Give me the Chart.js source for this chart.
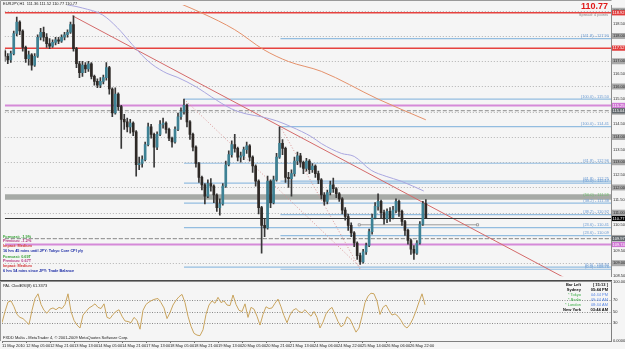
<!DOCTYPE html>
<html><head><meta charset="utf-8">
<script src="https://cdn.jsdelivr.net/npm/chart.js@4.4.1/dist/chart.umd.min.js"></script>
<style>
html,body{margin:0;padding:0;background:#f5f5f5;}
#wrap{position:relative;width:625px;height:349px;overflow:hidden;background:#f5f5f5;}
#c1{position:absolute;left:0;top:0;}
#c2{position:absolute;left:0;top:275px;}
</style></head><body>
<div id="wrap"><canvas id="c1" width="625" height="281"></canvas><canvas id="c2" width="625" height="74"></canvas></div>
<script>
// ---------------- DATA ----------------
const symbolTitle = 'EURJPY,H1  111.36 111.52 110.77 110.77';
const timeLabels = ['11 May 2010','12 May 05:00','12 May 21:00','13 May 13:00','14 May 05:00','14 May 21:00','17 May 13:00','18 May 05:00','18 May 21:00','19 May 13:00','20 May 05:00','20 May 21:00','21 May 13:00','24 May 06:00','24 May 22:00','25 May 14:00','26 May 06:00','26 May 22:00'];
const timeTickIdx = [0,8,16,24,32,40,48,56,64,72,80,88,96,104,112,120,128,136];
const priceTicks = [108.5,109,109.5,110,110.5,111,111.5,112,112.5,113,113.5,114,114.5,115,115.5,116,116.5,117,117.5,118,118.5,119];

const opens = [117.40,117.20,117.05,117.30,118.10,118.55,118.20,117.55,117.10,117.25,116.85,117.20,117.95,118.15,117.95,117.70,117.60,117.75,117.85,117.80,117.95,118.05,118.15,118.45,117.50,116.90,116.55,116.85,116.70,116.90,116.40,116.20,116.05,116.20,116.35,116.75,115.90,114.95,115.70,115.20,114.70,114.60,114.40,114.55,114.20,112.90,112.95,113.10,113.70,114.40,114.10,113.60,114.10,114.50,114.55,114.30,113.95,113.80,114.30,114.80,115.00,115.25,114.60,114.10,113.60,112.95,112.40,112.10,111.65,112.15,112.05,111.70,111.20,111.35,112.05,112.90,113.30,113.70,113.55,113.20,113.25,113.50,113.65,113.20,112.85,112.25,111.20,110.50,110.40,112.25,111.40,112.30,113.20,113.75,113.55,112.40,112.35,112.55,113.05,113.25,113.00,112.75,113.05,112.70,112.85,112.55,112.30,111.70,111.45,111.80,112.10,111.95,111.75,111.55,111.10,110.85,110.50,110.20,109.80,109.30,109.05,109.45,109.70,110.25,110.80,111.25,111.45,111.00,110.75,111.05,110.80,111.10,111.45,111.05,110.65,110.30,109.90,109.55,109.40,109.80,110.55,111.36];
const closes = [117.20,117.05,117.30,118.10,118.55,118.20,117.55,117.10,117.25,116.85,117.20,117.95,118.15,117.95,117.70,117.60,117.75,117.85,117.80,117.95,118.05,118.15,118.45,117.50,116.90,116.55,116.85,116.70,116.90,116.40,116.20,116.05,116.20,116.35,116.75,115.90,114.95,115.70,115.20,114.70,114.60,114.40,114.55,114.20,112.90,112.95,113.10,113.70,114.40,114.10,113.60,114.10,114.50,114.55,114.30,113.95,113.80,114.30,114.80,115.00,115.25,114.60,114.10,113.60,112.95,112.40,112.10,111.65,112.15,112.05,111.70,111.20,111.35,112.05,112.90,113.30,113.70,113.55,113.20,113.25,113.50,113.65,113.20,112.85,112.25,111.20,110.50,110.40,112.25,111.40,112.30,113.20,113.75,113.55,112.40,112.35,112.55,113.05,113.25,113.00,112.75,113.05,112.70,112.85,112.55,112.30,111.70,111.45,111.80,112.10,111.95,111.75,111.55,111.10,110.85,110.50,110.20,109.80,109.30,109.05,109.45,109.70,110.25,110.80,111.25,111.45,111.00,110.75,111.05,110.80,111.10,111.45,111.05,110.65,110.30,109.90,109.55,109.40,109.80,110.55,111.36,110.77];
const highs = [117.45,117.30,117.40,118.20,118.75,118.60,118.25,117.60,117.40,117.30,117.30,118.05,118.30,118.35,118.10,117.90,117.85,117.95,117.95,118.05,118.15,118.25,118.55,118.80,117.55,117.00,117.00,116.95,117.00,116.95,116.45,116.30,116.35,116.45,116.95,116.80,115.95,115.95,115.75,115.25,114.90,114.75,114.70,114.60,114.25,113.20,113.25,113.80,114.55,114.50,114.15,114.20,114.65,114.75,114.60,114.35,114.00,114.40,114.95,115.15,115.50,115.30,114.65,114.15,113.65,113.00,112.45,112.15,112.30,112.35,112.10,111.75,111.55,112.15,113.05,113.45,113.85,114.10,113.60,113.40,113.60,113.80,113.70,113.25,112.90,112.30,111.25,110.75,112.45,112.30,112.45,113.35,114.40,113.90,113.60,112.60,112.70,113.20,113.40,113.35,113.05,113.15,113.10,112.95,112.90,112.65,112.35,111.80,111.90,112.25,112.37,112.00,111.80,111.60,111.20,110.95,110.60,110.25,109.85,109.40,109.55,109.80,110.35,110.95,111.40,111.75,111.50,111.10,111.15,111.20,111.25,111.55,111.50,111.10,110.70,110.35,109.95,109.70,109.90,110.65,111.45,111.52];
const lows = [117.00,116.90,116.95,117.25,118.00,118.05,117.40,116.95,116.85,116.65,116.80,117.15,117.85,117.80,117.55,117.50,117.55,117.65,117.70,117.75,117.85,117.95,118.10,117.40,116.75,116.35,116.40,116.55,116.60,116.30,116.05,115.95,115.95,116.10,116.25,115.70,114.80,114.90,115.05,113.55,114.30,114.20,114.15,114.05,112.45,112.70,112.80,113.05,113.65,113.95,112.80,113.50,114.05,114.35,114.15,113.85,113.60,113.75,114.25,114.70,114.90,114.40,113.90,113.45,112.80,112.20,111.90,111.35,111.60,111.85,111.40,111.05,110.90,111.30,112.00,112.85,113.20,113.40,113.05,113.00,113.10,113.35,113.05,112.60,112.05,110.95,109.40,110.05,110.35,111.20,111.35,112.25,113.15,113.30,112.20,112.00,111.65,112.45,112.90,112.80,112.55,112.65,112.55,112.60,112.40,112.15,111.55,111.30,111.35,111.70,111.80,111.60,111.45,110.95,110.70,110.30,110.05,109.65,109.15,108.95,109.00,109.35,109.65,110.15,110.75,111.10,110.80,110.55,110.60,110.65,110.75,111.00,110.85,110.50,110.10,109.75,109.35,109.15,109.35,109.75,110.50,110.77];

const rsi = [31,50,66,68,58,45,40,38,33,28, 52,72,80,62,52,47,54,56,53,57, 55,62,80,50,35,27,22,44,50,56, 59,63,57,55,63,40,38,45,50,53, 42,34,33,31,40,35,20,52,62,66, 69,71,72,65,56,38,48,61,69,75, 79,65,42,25,13,10,9,19,45,61, 68,64,74,65,68,61,60,78,62,52, 50,63,40,57,54,42,27,45,58,55, 56,64,71,58,43,31,44,52,55,50, 48,53,47,42,50,40,22,32,46,53, 57,45,33,24,28,41,37,26,15,22, 42,65,76,81,80,68,45,57,61,52, 44,46,42,35,26,22,28,38,51,66, 80,61.34];
const rsiTicks = [0,30,50,70,100];
const rsiTickLabels = ['0.0000','30','50','70','100.0000'];
const rsiLevels = [30,50,70];

// moving averages (bar index, price)
const lavX = [12.7,18.7,26,32.7,37.7,42.7,46,49.3,54.3,57.7,64.3,69.3,76,81,86,91,96,102.7,106,112.7,117,122.7,127.7,132.7,140.3];
const lavY = [119.62,119.31,119.11,118.84,118.33,117.66,117.23,116.88,116.52,116.37,115.97,115.58,115.11,114.91,114.80,114.64,114.40,114.01,113.74,113.35,113.23,112.68,112.44,112.25,111.86];
const ornX = [52.7,66,77,86.7,95,106,125,141];
const ornY = [119.58,118.91,118.25,117.46,116.99,116.60,115.50,114.68];

// objects
const redLevels = [118.92, 117.52];
const pinkLevels = [115.25, 109.74];
const pivotLevels = [115.04, 109.97];
const bidPrice = 110.77;
const bandLevels = [111.73, 111.51];
const trendX = [22.7, 203], trendY = [118.80, 107.44];
const fibTrendAX = [60, 119], fibTrendAY = [115.50, 108.84];
const fibTrendBX = [92.3, 119], fibTrendBY = [114.41, 108.76];
const segX = [118.7, 158.3], segY = [110.52, 110.52];
const fibAStart = 60, fibAPcts = [100.0,61.8,50.0,38.2,23.6,0.0], fibAPrices = [115.50,112.96,112.17,111.38,110.41,108.84];
const fibBStart = 92.3, fibBPcts = [161.8,100.0,61.8,50.0,38.2,23.6,0.0], fibBPrices = [117.90,114.41,112.25,111.59,110.92,110.09,108.76];

const newsText = ['Forecast: -1.9%','Previous: -1.2%','Impact: Medium','16 hrs 45 mins until JPY: Tokyo Core CPI y/y','Forecast: 0.69T','Previous: 0.67T','Impact: Medium','6 hrs 54 mins since JPY: Trade Balance'];
const newsColors = ['#36a236','#b2307c','#d23434','#1c2ca6','#36a236','#b2307c','#d23434','#1c2ca6'];
const clockNames = ['Bar Left','Sydney','* Tokyo','* Berlin','* London','New York'];
const clockTimes = ['[ 15:13 ]','05:44 PM','04:44 PM','09:44 AM','08:44 AM','03:44 AM'];

// ---------------- STYLE / BUILD ----------------
const F = '"Liberation Sans", Arial, sans-serif';
const XMAX = 203;
const pts = (xs, ys) => xs.map((x, i) => ({x, y: ys[i]}));
function hline(v, x0, color, width, dash, order) {
  return {type:'line', data:[{x:x0,y:v},{x:XMAX,y:v}], borderColor:color, borderWidth:width, borderDash:dash||[], pointRadius:0, fill:false, order:order===undefined?5:order};
}
const datasets = [];
// band
datasets.push({type:'line', data:[{x:0,y:bandLevels[0]},{x:XMAX,y:bandLevels[0]}], borderColor:'rgba(0,0,0,0)', borderWidth:0, pointRadius:0, fill:'+1', backgroundColor:'#a6aaa6', order:4});
datasets.push({type:'line', data:[{x:0,y:bandLevels[1]},{x:XMAX,y:bandLevels[1]}], borderColor:'rgba(0,0,0,0)', borderWidth:0, pointRadius:0, fill:false, order:4});
// fib levels
fibAPrices.forEach(v => datasets.push(hline(v, fibAStart, '#93bde0', 1.2, null, 6)));
fibBPrices.forEach(v => datasets.push(hline(v, fibBStart, '#93bde0', 1.2, null, 6)));
redLevels.forEach(v => datasets.push(hline(v, 0, '#e6423f', 1.5)));
pinkLevels.forEach(v => datasets.push(hline(v, 0, '#d58ad8', 2)));
pivotLevels.forEach(v => datasets.push(hline(v, 0, '#8a8a8a', 1, [4,2])));
datasets.push(hline(bidPrice, 0, '#3a3a3a', 1.2, null, 3));
// diagonal objects
datasets.push({type:'line', data:pts(trendX,trendY), borderColor:'#d46a6a', borderWidth:1, pointRadius:0, order:3});
datasets.push({type:'line', data:pts(fibTrendAX,fibTrendAY), borderColor:'#d99494', borderWidth:1, borderDash:[1,2], pointRadius:0, order:3});
datasets.push({type:'line', data:pts(fibTrendBX,fibTrendBY), borderColor:'#d99494', borderWidth:1, borderDash:[1,2], pointRadius:0, order:3});
datasets.push({type:'line', data:pts(segX,segY), borderColor:'#9a9a9a', borderWidth:1, pointRadius:1.5, pointStyle:'rect', pointBackgroundColor:'#ffffff', pointBorderColor:'#8a8a8a', pointBorderWidth:0.8, order:3});
// moving averages
datasets.push({type:'line', data:pts(lavX,lavY), borderColor:'#aaa7e0', borderWidth:1, pointRadius:0, cubicInterpolationMode:'monotone', order:2});
datasets.push({type:'line', data:pts(ornX,ornY), borderColor:'#e4916b', borderWidth:1, pointRadius:0, cubicInterpolationMode:'monotone', order:2});
// candles
datasets.push({type:'bar', data:closes.map((c,i)=>({x:i,y:[lows[i],highs[i]]})), backgroundColor:'#383838', barThickness:1, grouped:false, borderWidth:0, order:1});
datasets.push({type:'bar', data:closes.map((c,i)=>({x:i,y:[opens[i],c]})), backgroundColor:ctx => (closes[ctx.dataIndex] >= opens[ctx.dataIndex] ? '#3d8194' : '#2e2926'), barThickness:2, grouped:false, borderWidth:0, minBarLength:1, order:0});

const isInt = v => Math.abs(v - Math.round(v)) < 1e-6;
const gridLevels = priceTicks.filter(isInt);
const axisMarks = [
  {v:redLevels[0], bg:'#e23b3b', fg:'#ffffff'},
  {v:redLevels[1], bg:'#e23b3b', fg:'#ffffff'},
  {v:pinkLevels[0], bg:'#d077d4', fg:'#ffffff'},
  {v:pinkLevels[1], bg:'#d077d4', fg:'#ffffff'},
  {v:pivotLevels[0], bg:'#5f666b', fg:'#ffffff'},
  {v:pivotLevels[1], bg:'#5f666b', fg:'#ffffff'},
  {v:bidPrice, bg:'#000000', fg:'#ffffff'}
];

const mainDeco = {
  id:'mainDeco',
  beforeDatasetsDraw(chart){
    const {ctx, chartArea:a, scales:{y}} = chart;
    ctx.save();
    ctx.strokeStyle = '#b2b2b2'; ctx.lineWidth = 1; ctx.setLineDash([1,2]);
    gridLevels.forEach(v => {
      const py = Math.round(y.getPixelForValue(v)) + 0.5;
      ctx.beginPath(); ctx.moveTo(a.left, py); ctx.lineTo(a.right, py); ctx.stroke();
    });
    ctx.restore();
  },
  afterDraw(chart){
    const {ctx, chartArea:a, scales:{y}} = chart;
    ctx.save();
    // fib labels
    ctx.font = '4px ' + F; ctx.textAlign = 'right'; ctx.textBaseline = 'bottom';
    const lab = (p, v, col) => { ctx.fillStyle = col; ctx.fillText('(' + p.toFixed(1) + ') - ' + v.toFixed(2), a.right - 2, y.getPixelForValue(v) - 0.5); };
    fibAPcts.forEach((p,i) => lab(p, fibAPrices[i], '#6a9ad2'));
    fibBPcts.forEach((p,i) => lab(p, fibBPrices[i], p === 50 ? '#6fc06f' : '#6a9ad2'));
    // title
    ctx.textAlign = 'left'; ctx.textBaseline = 'middle';
    ctx.fillStyle = '#202020'; ctx.font = '4px ' + F;
    ctx.fillText(symbolTitle, 3, 4);
    // price banner
    ctx.textAlign = 'right'; ctx.fillStyle = '#e01818'; ctx.font = 'bold 9px ' + F;
    ctx.fillText(bidPrice.toFixed(2), 608, 7);
    ctx.fillStyle = '#8a8a8a'; ctx.font = '4px ' + F;
    ctx.fillText('Spread: 4 points', 608, 14.5);
    // news
    ctx.textAlign = 'left';
    const ny = [236.7, 241.4, 246.1, 250.8, 256.6, 261.3, 266.0, 270.6];
    newsText.forEach((t,i) => { ctx.fillStyle = newsColors[i]; ctx.font = 'bold 3.8px ' + F; ctx.fillText(t, 3, ny[i]); });
    // axis marks
    axisMarks.forEach(m => {
      const py = y.getPixelForValue(m.v);
      ctx.fillStyle = m.bg; ctx.fillRect(612, py - 2.6, 13, 5.2);
      ctx.fillStyle = m.fg; ctx.font = '4px ' + F; ctx.textAlign = 'left'; ctx.textBaseline = 'middle';
      ctx.fillText(m.v.toFixed(2), 612.5, py + 0.2);
    });
    // borders
    ctx.strokeStyle = '#9a9a9a'; ctx.lineWidth = 1;
    ctx.beginPath(); ctx.moveTo(0.5, 0.5); ctx.lineTo(611.5, 0.5); ctx.moveTo(0.5, 0.5); ctx.lineTo(0.5, 281); ctx.stroke();
    ctx.restore();
  }
};

new Chart(document.getElementById('c1'), {
  type:'bar',
  data:{datasets},
  options:{
    responsive:false, animation:false, events:[],
    layout:{padding:{left:2,right:0,top:5,bottom:2}},
    plugins:{legend:{display:false}, tooltip:{enabled:false}},
    scales:{
      x:{type:'linear', min:0, max:XMAX, display:false, offset:false},
      y:{type:'linear', position:'right', min:108.484, max:119.229,
         afterFit:s => { s.width = 14; },
         afterBuildTicks:s => { s.ticks = priceTicks.map(v => ({value:v})); },
         grid:{display:false, drawTicks:false},
         border:{display:true, color:'#8c8c8c'},
         ticks:{font:{size:4, family:F}, color:'#2a2a2a', padding:2, autoSkip:false,
           callback:v => Number(v).toFixed(2),
           showLabelBackdrop:ctx => isInt(ctx.tick.value),
           backdropColor:'#a9a9a9', backdropPadding:{left:1,right:3,top:0.6,bottom:0.6}}}
    }
  },
  plugins:[mainDeco]
});

// ---------------- RSI PANEL ----------------
const OFF = 275;
const rsiDeco = {
  id:'rsiDeco',
  beforeDatasetsDraw(chart){
    const {ctx, chartArea:a, scales:{y}} = chart;
    ctx.save();
    ctx.strokeStyle = '#8a8a8a'; ctx.lineWidth = 1; ctx.setLineDash([1,1.5]);
    rsiLevels.forEach(v => {
      const py = Math.round(y.getPixelForValue(v)) + 0.5;
      ctx.beginPath(); ctx.moveTo(a.left, py); ctx.lineTo(a.right, py); ctx.stroke();
    });
    ctx.restore();
  },
  afterDraw(chart){
    const {ctx, chartArea:a} = chart;
    ctx.save();
    // separator
    ctx.fillStyle = '#4a4a4a'; ctx.fillRect(0, 280 - OFF, 612, 1.6);
    ctx.strokeStyle = '#9a9a9a'; ctx.lineWidth = 1;
    ctx.beginPath(); ctx.moveTo(0.5, 281 - OFF); ctx.lineTo(0.5, a.bottom); ctx.stroke();
    ctx.textBaseline = 'middle'; ctx.textAlign = 'left';
    ctx.fillStyle = '#202020'; ctx.font = '4px ' + F;
    ctx.fillText('PAL Clock', 3, 285.5 - OFF);
    ctx.fillText('RSI(8) 61.3373', 20, 285.5 - OFF);
    ctx.fillText('FXDD Malta - MetaTrader 4, \u00a9 2001-2009 MetaQuotes Software Corp.', 3, 337.5 - OFF);
    const cy = [285, 290, 295, 300, 304.7, 309.7];
    clockNames.forEach((n,i) => {
      const special = n.charAt(0) === '*';
      ctx.font = (special ? '' : 'bold ') + '4px ' + F;
      ctx.textAlign = 'right'; ctx.fillStyle = special ? '#3fb04a' : '#101010';
      ctx.fillText(n, 581, cy[i] - OFF);
      ctx.textAlign = 'right'; ctx.fillStyle = special ? '#5a88e6' : '#101010';
      ctx.fillText(clockTimes[i], 608, cy[i] - OFF);
    });
    ctx.restore();
  }
};

new Chart(document.getElementById('c2'), {
  type:'line',
  data:{datasets:[{data:rsi.map((v,i)=>({x:i,y:v})), borderColor:'#c9a45e', borderWidth:1, pointRadius:0, fill:false}]},
  options:{
    responsive:false, animation:false, events:[],
    layout:{padding:{left:2,right:0,top:7,bottom:0}},
    plugins:{legend:{display:false}, tooltip:{enabled:false}},
    scales:{
      x:{type:'linear', position:'bottom', min:0, max:XMAX, offset:false,
         afterFit:s => { s.height = 8; },
         afterBuildTicks:s => { s.ticks = timeTickIdx.map(v => ({value:v})); },
         grid:{display:true, drawOnChartArea:false, drawTicks:true, tickLength:2, color:'#707070'},
         border:{display:true, color:'#808080'},
         ticks:{autoSkip:false, maxRotation:0, minRotation:0, align:'start', padding:0.5,
           font:{size:4, family:F}, color:'#202020', callback:(v, idx) => timeLabels[idx]}},
      y:{type:'linear', position:'right', min:0, max:100,
         afterFit:s => { s.width = 14; },
         afterBuildTicks:s => { s.ticks = rsiTicks.map(v => ({value:v})); },
         grid:{display:false, drawTicks:false},
         border:{display:true, color:'#808080'},
         ticks:{font:{size:4, family:F}, color:'#2a2a2a', padding:2, autoSkip:false,
           callback:(v, idx) => rsiTickLabels[idx]}}
    }
  },
  plugins:[rsiDeco]
});
</script>
</body></html>
